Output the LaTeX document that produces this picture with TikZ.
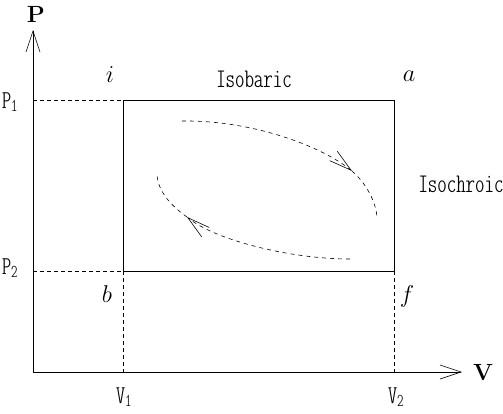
\documentclass[tikz,border=0pt]{standalone}
\usepackage{tikz}
\usetikzlibrary{arrows.meta, positioning}
\tikzset{
    % Axis and box lines
    axisline/.style={
        line width=0.6pt,
        -{Straight Barb[length=0.63cm, width=0.42cm, line width=0.5pt]}
    },
    boxline/.style={
        line width=0.6pt
    },
    guideline/.style={
        line width=0.5pt,
        dash pattern=on 3.4pt off 2.6pt
    },
    % Cycle curve styles
    cycleline/.style={
        line width=0.5pt,
        dash pattern=on 3.4pt off 3.4pt
    },
    cyclearrow/.style={
        cycleline,
        -{Straight Barb[length=0.68cm, width=0.36cm, line width=0.5pt]}
    },
    % Label styles
    axislabel/.style={
        font=\fontsize{20}{22}\selectfont\bfseries,
        inner sep=0pt
    },
    statelabel/.style={
        font=\fontsize{21}{23}\selectfont\itshape,
        inner sep=0pt,
        anchor=base
    },
    ticklabel/.style={
        font=\fontsize{23}{25}\selectfont\ttfamily\fontseries{lc}\selectfont,
        inner sep=0pt,
        anchor=base
    },
    valuelabel/.style={
        ticklabel,
        font=\fontsize{22}{24}\selectfont\ttfamily\fontseries{lc}\selectfont
    }
}
\begin{document}
\begin{tikzpicture}[x=0.03cm, y=-0.03cm]
    \useasboundingbox (0,0) rectangle (503,413);

    % Axes
    \coordinate (origin) at (33,372);
    \coordinate (ptip) at (33,30);
    \coordinate (vtip) at (462,372);
    \draw[axisline] (origin) -- (ptip);
    \draw[axisline] (origin) -- (vtip);
    \node[axislabel] (plabel) at (36,14) {P};
    \node[axislabel] (vlabel) at (483,373) {V};

    % Corners of the cycle
    \coordinate (i) at (123,100);
    \coordinate (a) at (394,100);
    \coordinate (f) at (394,271);
    \coordinate (b) at (123,271);
    \coordinate (p1) at (33,100);
    \coordinate (p2) at (33,271);
    \coordinate (v1) at (123,372);
    \coordinate (v2) at (394,372);

    \draw[boxline] (i) -- (a) -- (f) -- (b) -- cycle;
    \draw[guideline] (p1) -- (i);
    \draw[guideline] (p2) -- (b);
    \draw[guideline] (b) -- (v1);
    \draw[guideline] (f) -- (v2);

    % Labels
    \node[statelabel] (ilabel) at (110,82) {$i$};
    \node[statelabel] (alabel) at (409,81) {$a$};
    \node[statelabel] (blabel) at (107,302) {$b$};
    \node[statelabel] (flabel) at (407,302) {$f$};
    \node[valuelabel] (p1label) at (10,108) {P\textsubscript{1}};
    \node[valuelabel] (p2label) at (10,274) {P\textsubscript{2}};
    \node[valuelabel] (v1label) at (124,403) {V\textsubscript{1}};
    \node[valuelabel] (v2label) at (396,403) {V\textsubscript{2}};
    \node[ticklabel] (isobaric) at (254,87) {Isobaric};
    \node[ticklabel] (isochoric) at (461,192) {Isochroic};

    % Cycle curves
    \coordinate (u1) at (182,121);
    \coordinate (u2) at (352,171);
    \coordinate (u3) at (377,219);
    \coordinate (l1) at (350,259);
    \coordinate (l2) at (187,217);
    \coordinate (l3) at (157,173);
    \draw[cyclearrow] (u1) .. controls (250,120) and (320,145) .. (u2);
    \draw[cycleline] (u2) .. controls (368,185) and (377,205) .. (u3);
    \draw[cyclearrow] (l1) .. controls (290,259) and (215,240) .. (l2);
    \draw[cycleline] (l2) .. controls (170,205) and (157,190) .. (l3);
\end{tikzpicture}
\end{document}
